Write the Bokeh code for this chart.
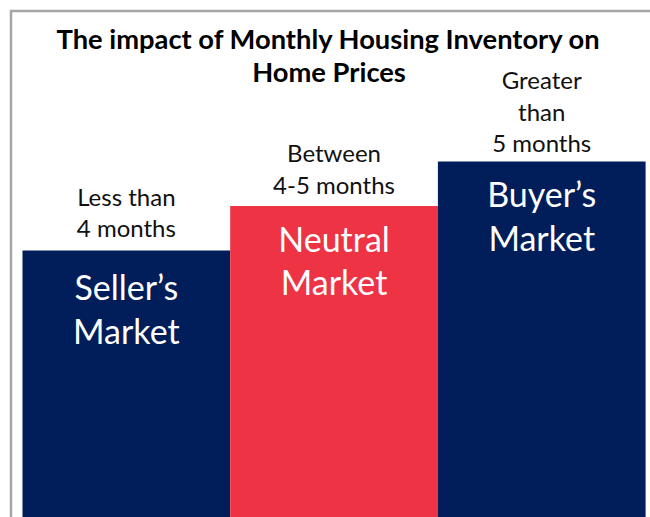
from bokeh.plotting import figure
from bokeh.models import Range1d, Label
from bokeh.core.properties import value
from bokeh.embed import file_html
from bokeh.resources import INLINE

# ---- data ----
positions = [0, 1, 2]
levels = [6, 7, 8]  # relative bar heights
markets = ["Seller\u2019s\nMarket", "Neutral\nMarket", "Buyer\u2019s\nMarket"]
inventory = ["Less than\n4 months", "Between\n4-5 months", "Greater\nthan\n5 months"]
colors = ["#011E5A", "#EE3344", "#011E5A"]
title_text = "The impact of Monthly Housing Inventory on\nHome Prices"

FONT = "Lato"

p = figure(width=641, height=508, output_backend="svg", toolbar_location=None,
           x_range=Range1d(-0.5481, 2.5236), y_range=Range1d(0, 11.348),
           x_axis_location=None, y_axis_location=None,
           min_border_left=3, min_border_top=3, min_border_right=0, min_border_bottom=0,
           border_fill_color="#A6A6A6", background_fill_color="white")
p.margin = (9, 0, 0, 9)
p.outline_line_color = None
p.xgrid.visible = False
p.ygrid.visible = False

p.vbar(x=positions, top=levels, bottom=0, width=1.0, fill_color=colors, line_color=None)

# labels above bars
p.text(x=positions, y=levels, text=inventory, text_align="center", text_baseline="bottom",
       y_offset=[-8, -7, -4], text_font=value(FONT), text_font_size="24px",
       text_color="#111111", text_line_height=1.1)

# labels inside bars
p.text(x=positions, y=levels, text=markets, text_align="center", text_baseline="top",
       y_offset=[16, 12, 12], text_font=value(FONT), text_font_size="34px",
       text_color="white", text_line_height=1.06)

title = Label(x=1, y=11.348, text=title_text, text_align="center", text_baseline="top",
              x_offset=-5, y_offset=-9, text_font=FONT, text_font_size="27.3px",
              text_font_style="bold", text_color="black", text_line_height=1.01)
p.add_layout(title)

open("out.html", "w").write(file_html(p, INLINE))
